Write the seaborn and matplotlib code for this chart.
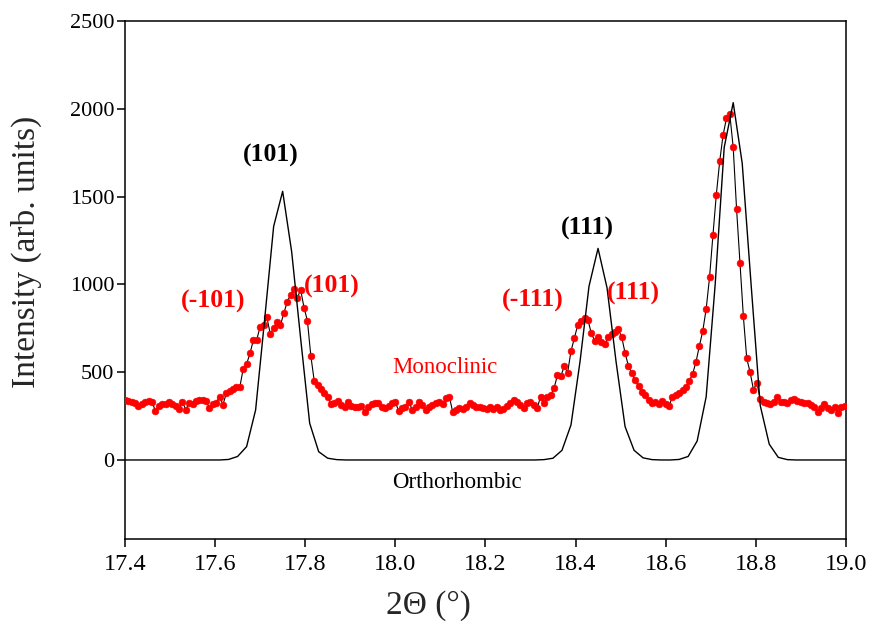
import numpy as np
import pandas as pd
import matplotlib
matplotlib.use("Agg")
import matplotlib.pyplot as plt
import seaborn as sns

# Monoclinic scan: measured counts on a regular 2-theta grid
mono_start = 17.4
mono_step = 0.0075
mono_counts = [
    340, 336, 328, 322, 310, 320, 330, 336, 333, 279,
    305, 316, 320, 332, 319, 307, 289, 332, 285, 326,
    319, 338, 342, 342, 334, 298, 319, 326, 361, 315,
    380, 391, 402, 414, 416, 520, 547, 607, 683, 685,
    759, 768, 813, 717, 750, 785, 768, 835, 900, 940,
    975, 925, 968, 867, 792, 594, 452, 427, 402, 380,
    357, 319, 326, 334, 313, 304, 332, 307, 304, 304,
    307, 275, 300, 320, 326, 322, 304, 296, 307, 326,
    332, 278, 294, 304, 332, 286, 304, 330, 313, 285,
    304, 315, 323, 332, 317, 351, 361, 272, 285, 294,
    289, 304, 323, 313, 304, 304, 294, 289, 300, 292,
    300, 283, 292, 306, 322, 340, 333, 315, 296, 322,
    330, 313, 296, 361, 322, 361, 370, 410, 484, 478,
    533, 498, 620, 695, 769, 790, 810, 800, 721, 680,
    699, 674, 658, 699, 718, 728, 744, 700, 610, 535,
    495, 455, 420, 389, 372, 340, 323, 332, 319, 338,
    319, 305, 361, 370, 383, 396, 415, 450, 490, 560,
    650, 735, 860, 1040, 1280, 1510, 1700, 1850, 1945, 1968,
    1780, 1428, 1120, 820, 579, 500, 400, 440, 345, 332,
    326, 319, 332, 361, 332, 330, 326, 340, 350, 334,
    330, 326, 322, 315, 304, 275, 294, 319, 296, 285,
    300, 270, 300, 305,
]

# Orthorhombic calculated pattern (vertices of the simulated profile)
ortho_2theta = [17.40, 17.61, 17.63, 17.65, 17.67, 17.69, 17.71, 17.73, 17.75,
                17.77, 17.79, 17.81, 17.83, 17.85, 17.87, 17.89,
                18.31, 18.33, 18.35, 18.37, 18.39, 18.41, 18.43, 18.45,
                18.47, 18.49, 18.51, 18.53, 18.55, 18.57, 18.59,
                18.61, 18.63, 18.65, 18.67, 18.69, 18.71, 18.73, 18.75,
                18.77, 18.79, 18.81, 18.83, 18.85, 18.87, 18.89, 19.00]
ortho_counts = [0, 0, 3, 20, 76, 285, 800, 1330, 1530,
                1186, 690, 209, 47, 10, 2, 0,
                0, 2, 10, 55, 200, 560, 990, 1205,
                980, 560, 190, 55, 12, 2, 0,
                0, 3, 20, 108, 360, 1000, 1780, 2035,
                1690, 990, 310, 90, 15, 2, 0, 0]

x_ticks = [17.4, 17.6, 17.8, 18.0, 18.2, 18.4, 18.6, 18.8, 19.0]
y_ticks = [0, 500, 1000, 1500, 2000, 2500]

# Reflection labels: (text, 2theta, intensity, colour, weight, size)
peak_labels = [
    ("(101)", 17.723, 1737, "black", "bold", 18.5),
    ("(111)", 18.427, 1321, "black", "bold", 18.5),
    ("(-101)", 17.596, 905, "red", "bold", 18.5),
    ("(101)", 17.858, 991, "red", "bold", 18.5),
    ("(-111)", 18.306, 911, "red", "bold", 18.5),
    ("(111)", 18.528, 951, "red", "bold", 18.5),
    ("Monoclinic", 18.111, 524, "red", "normal", 16.5),
    ("Orthorhombic", 18.136, -131, "black", "normal", 16.5),
]

mono = pd.DataFrame({
    "two_theta": mono_start + mono_step * np.arange(len(mono_counts)),
    "intensity": mono_counts,
})
ortho = pd.DataFrame({"two_theta": ortho_2theta, "intensity": ortho_counts})

sns.set_theme(style="ticks")
plt.rcParams["font.family"] = ["Liberation Serif", "DejaVu Serif"]

fig = plt.figure(figsize=(8.72, 6.29), dpi=100)
ax = fig.add_axes([0.1433, 0.1431, 0.8267, 0.8235])

sns.lineplot(data=mono, x="two_theta", y="intensity", ax=ax, color="black",
             linewidth=0.8, estimator=None, sort=False, zorder=2)
sns.scatterplot(data=mono, x="two_theta", y="intensity", ax=ax, color="red",
                edgecolor="red", s=24, linewidth=0.4, zorder=3)
sns.lineplot(data=ortho, x="two_theta", y="intensity", ax=ax, color="black",
             linewidth=1.0, estimator=None, sort=False, zorder=4)

for text, xv, yv, col, wt, fs in peak_labels:
    ax.text(xv, yv, text, color=col, fontweight=wt, fontsize=fs,
            ha="center", va="center", zorder=5)

ax.set_xlim(17.4, 19.0)
ax.set_ylim(-450, 2500)
ax.set_xticks(x_ticks)
ax.set_xticklabels([f"{v:.1f}" for v in x_ticks])
ax.set_yticks(y_ticks)
ax.set_yticklabels([str(v) for v in y_ticks])
ax.tick_params(direction="out", length=6, width=1.1, colors="black")
ax.tick_params(axis="y", pad=1.5, labelsize=16)
ax.tick_params(axis="x", pad=5, labelsize=17.5)
for side in ["left", "bottom", "top", "right"]:
    ax.spines[side].set_visible(True)
    ax.spines[side].set_linewidth(1.1)
    ax.spines[side].set_color("black")

ax.set_xlabel("2Θ (°)", fontsize=24)
ax.set_ylabel("Intensity (arb. units)", fontsize=24)
ax.xaxis.set_label_coords(0.4216, -0.128)
ax.yaxis.set_label_coords(-0.137, 0.554)
ax.xaxis.label.set_va("center")
ax.yaxis.label.set_va("center")

fig.savefig("out.png", dpi=100)
